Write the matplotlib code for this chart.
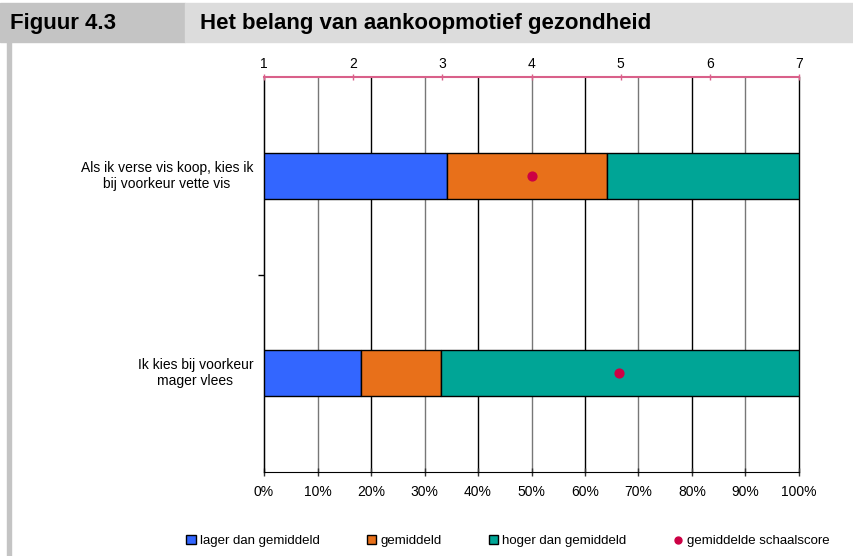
import matplotlib.pyplot as plt
from matplotlib.patches import Patch, Rectangle
from matplotlib.lines import Line2D
import numpy as np

plt.rcParams['font.family'] = ['Liberation Sans Narrow', 'Liberation Sans', 'DejaVu Sans']

# data
categories = ["Als ik verse vis koop, kies ik\nbij voorkeur vette vis",
              "Ik kies bij voorkeur\nmager vlees"]
lager = [34.2, 18.1]
gemiddeld = [29.9, 15.0]
hoger = [35.9, 66.9]
schaalscore = [4.0, 4.98]
pct_ticks = list(range(0, 101, 10))
scale_ticks = list(range(1, 8))

c_blue = '#3366ff'
c_orange = '#e8701a'
c_teal = '#00a596'
c_dot = '#cc0044'
c_pink = '#d9608a'

fig = plt.figure(figsize=(8.54, 5.56), dpi=100)

# header band
fig.patches.append(Rectangle((0, 1 - 42 / 556), 185 / 854, 39 / 556, transform=fig.transFigure,
                             color='#c4c4c4', zorder=0))
fig.patches.append(Rectangle((185 / 854, 1 - 42 / 556), 1 - 185 / 854, 39 / 556, transform=fig.transFigure,
                             color='#dcdcdc', zorder=0))
fig.patches.append(Rectangle((7 / 854, 0), 4 / 854, 1 - 42 / 556, transform=fig.transFigure,
                             color='#c4c4c4', zorder=0))
fig.text(10 / 854, 1 - 24 / 556, 'Figuur 4.3', fontsize=16, fontweight='bold', va='center', ha='left')
fig.text(200 / 854, 1 - 24 / 556, 'Het belang van aankoopmotief gezondheid', fontsize=16,
         fontweight='bold', va='center', ha='left')

ax = fig.add_axes([264 / 854, 1 - 472 / 556, 535 / 854, 395 / 556])
y = np.arange(len(categories))
h = 0.233
ax.barh(y, lager, height=h, color=c_blue, edgecolor='black', linewidth=1, zorder=3)
ax.barh(y, gemiddeld, left=lager, height=h, color=c_orange, edgecolor='black', linewidth=1, zorder=3)
left2 = np.array(lager) + np.array(gemiddeld)
ax.barh(y, hoger, left=left2, height=h, color=c_teal, edgecolor='black', linewidth=1, zorder=3)

ax.set_xlim(0, 100)
ax.set_ylim(1.5, -0.5)
ax.set_xticks(pct_ticks)
ax.set_xticklabels([f'{t}%' for t in pct_ticks], fontsize=10)
ax.set_yticks([0.5])
ax.set_yticklabels([])
ax.tick_params(axis='y', length=4, width=1)
ax.tick_params(axis='x', direction='inout', length=6, width=1, colors='#333333', labelcolor='black', pad=6)
for i, t in enumerate(pct_ticks):
    ax.axvline(t, color='black' if i % 2 == 0 else '#777777', lw=1, zorder=1, clip_on=False)
for i, lab in enumerate(categories):
    ax.text(-0.02, i, lab, transform=ax.get_yaxis_transform(), ha='right', va='center',
            multialignment='center', fontsize=10)
ax.spines['right'].set_visible(False)
ax.spines['top'].set_visible(False)

# top scale axis 1-7 for the mean scale score
ax2 = ax.twiny()
ax2.set_xlim(1, 7)
ax2.set_xticks(scale_ticks)
ax2.tick_params(axis='x', direction='inout', length=5, width=1, colors=c_pink, labelcolor='black',
                labelsize=10, pad=2)
for s in ['left', 'right', 'bottom']:
    ax2.spines[s].set_visible(False)
ax2.spines['top'].set_color(c_pink)
ax2.spines['top'].set_linewidth(1.5)
ax2.scatter(schaalscore, y, s=40, color=c_dot, zorder=5)

handles = [Patch(facecolor=c_blue, edgecolor='black', label='lager dan gemiddeld'),
           Patch(facecolor=c_orange, edgecolor='black', label='gemiddeld'),
           Patch(facecolor=c_teal, edgecolor='black', label='hoger dan gemiddeld'),
           Line2D([], [], marker='o', color='none', markerfacecolor=c_dot, markeredgecolor=c_dot,
                  markersize=5, label='gemiddelde schaalscore')]
fig.legend(handles=handles, loc='center', bbox_to_anchor=(508 / 854, 15 / 556), ncol=4, frameon=False,
           fontsize=9.5, handlelength=0.7, handleheight=0.7, handletextpad=0.3, columnspacing=3.6)

fig.savefig('out.png', dpi=100)
